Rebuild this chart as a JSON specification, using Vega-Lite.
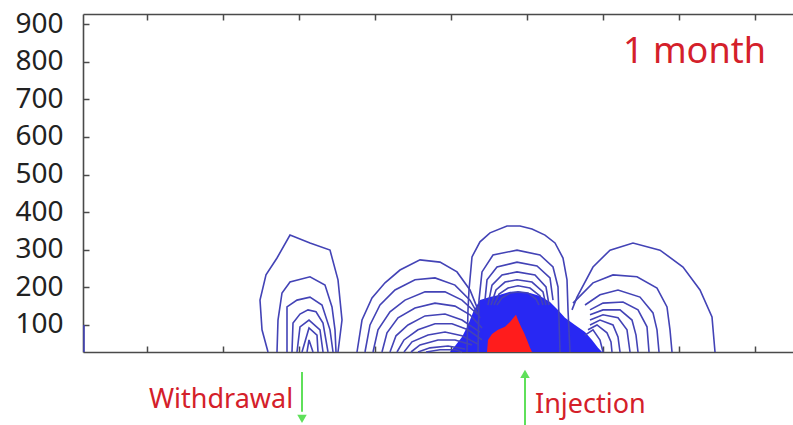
{
  "$schema": "https://vega.github.io/schema/vega-lite/v6.json",
  "width": 710,
  "height": 338,
  "autosize": {"type": "none"},
  "padding": {"left": 83, "top": 14, "right": 0, "bottom": 73},
  "background": "white",
  "config": {
    "view": {"stroke": null},
    "axis": {"grid": false, "title": null, "domainColor": "#4a4a4a", "domainWidth": 1.6, "tickColor": "#4a4a4a", "tickWidth": 1.5, "tickSize": -6}
  },
  "data": {"values": [
    {"k":"c","c":"E","x":84,"y":28},{"k":"c","c":"E","x":84,"y":100},
    {"k":"c","c":"W1","x":268,"y":28},{"k":"c","c":"W1","x":262,"y":87},{"k":"c","c":"W1","x":260,"y":166},{"k":"c","c":"W1","x":266,"y":233},{"k":"c","c":"W1","x":277,"y":278},{"k":"c","c":"W1","x":290,"y":339},{"k":"c","c":"W1","x":310,"y":318},{"k":"c","c":"W1","x":330,"y":299},{"k":"c","c":"W1","x":338,"y":220},{"k":"c","c":"W1","x":342,"y":113},{"k":"c","c":"W1","x":338,"y":28},
    {"k":"c","c":"W2","x":277,"y":28},{"k":"c","c":"W2","x":278,"y":113},{"k":"c","c":"W2","x":282,"y":185},{"k":"c","c":"W2","x":290,"y":214},{"k":"c","c":"W2","x":310,"y":228},{"k":"c","c":"W2","x":325,"y":206},{"k":"c","c":"W2","x":332,"y":148},{"k":"c","c":"W2","x":335,"y":87},{"k":"c","c":"W2","x":336,"y":28},
    {"k":"c","c":"W3","x":287,"y":28},{"k":"c","c":"W3","x":287,"y":148},{"k":"c","c":"W3","x":297,"y":166},{"k":"c","c":"W3","x":310,"y":174},{"k":"c","c":"W3","x":322,"y":153},{"k":"c","c":"W3","x":330,"y":87},{"k":"c","c":"W3","x":333,"y":28},
    {"k":"c","c":"W4","x":292,"y":28},{"k":"c","c":"W4","x":293,"y":105},{"k":"c","c":"W4","x":300,"y":129},{"k":"c","c":"W4","x":308,"y":140},{"k":"c","c":"W4","x":316,"y":135},{"k":"c","c":"W4","x":323,"y":105},{"k":"c","c":"W4","x":328,"y":28},
    {"k":"c","c":"W5","x":297,"y":28},{"k":"c","c":"W5","x":300,"y":95},{"k":"c","c":"W5","x":309,"y":113},{"k":"c","c":"W5","x":320,"y":87},{"k":"c","c":"W5","x":323,"y":28},
    {"k":"c","c":"W6","x":302,"y":28},{"k":"c","c":"W6","x":309,"y":92},{"k":"c","c":"W6","x":317,"y":73},{"k":"c","c":"W6","x":318,"y":28},
    {"k":"c","c":"W7","x":307,"y":28},{"k":"c","c":"W7","x":309,"y":60},{"k":"c","c":"W7","x":313,"y":28},
    {"k":"c","c":"L1","x":357,"y":28},{"k":"c","c":"L1","x":362,"y":113},{"k":"c","c":"L1","x":372,"y":172},{"k":"c","c":"L1","x":385,"y":212},{"k":"c","c":"L1","x":400,"y":246},{"k":"c","c":"L1","x":420,"y":273},{"k":"c","c":"L1","x":440,"y":267},{"k":"c","c":"L1","x":457,"y":241},{"k":"c","c":"L1","x":470,"y":193},{"k":"c","c":"L1","x":478,"y":140},
    {"k":"c","c":"L2","x":365,"y":28},{"k":"c","c":"L2","x":370,"y":100},{"k":"c","c":"L2","x":380,"y":153},{"k":"c","c":"L2","x":395,"y":193},{"k":"c","c":"L2","x":415,"y":220},{"k":"c","c":"L2","x":435,"y":225},{"k":"c","c":"L2","x":455,"y":206},{"k":"c","c":"L2","x":470,"y":166},{"k":"c","c":"L2","x":480,"y":119},
    {"k":"c","c":"L3","x":373,"y":28},{"k":"c","c":"L3","x":378,"y":87},{"k":"c","c":"L3","x":390,"y":135},{"k":"c","c":"L3","x":405,"y":166},{"k":"c","c":"L3","x":425,"y":188},{"k":"c","c":"L3","x":445,"y":188},{"k":"c","c":"L3","x":462,"y":166},{"k":"c","c":"L3","x":478,"y":127},
    {"k":"c","c":"L4","x":382,"y":28},{"k":"c","c":"L4","x":387,"y":79},{"k":"c","c":"L4","x":398,"y":119},{"k":"c","c":"L4","x":415,"y":145},{"k":"c","c":"L4","x":435,"y":158},{"k":"c","c":"L4","x":455,"y":150},{"k":"c","c":"L4","x":470,"y":127},{"k":"c","c":"L4","x":482,"y":92},
    {"k":"c","c":"L5","x":390,"y":28},{"k":"c","c":"L5","x":396,"y":71},{"k":"c","c":"L5","x":408,"y":100},{"k":"c","c":"L5","x":425,"y":124},{"k":"c","c":"L5","x":445,"y":129},{"k":"c","c":"L5","x":462,"y":113},{"k":"c","c":"L5","x":480,"y":81},
    {"k":"c","c":"L6","x":397,"y":28},{"k":"c","c":"L6","x":404,"y":60},{"k":"c","c":"L6","x":418,"y":87},{"k":"c","c":"L6","x":435,"y":103},{"k":"c","c":"L6","x":452,"y":103},{"k":"c","c":"L6","x":468,"y":87},{"k":"c","c":"L6","x":482,"y":60},
    {"k":"c","c":"L7","x":404,"y":28},{"k":"c","c":"L7","x":412,"y":55},{"k":"c","c":"L7","x":428,"y":73},{"k":"c","c":"L7","x":445,"y":81},{"k":"c","c":"L7","x":462,"y":71},{"k":"c","c":"L7","x":478,"y":49},
    {"k":"c","c":"L8","x":411,"y":28},{"k":"c","c":"L8","x":420,"y":47},{"k":"c","c":"L8","x":438,"y":60},{"k":"c","c":"L8","x":455,"y":60},{"k":"c","c":"L8","x":472,"y":47},
    {"k":"c","c":"L9","x":418,"y":28},{"k":"c","c":"L9","x":430,"y":39},{"k":"c","c":"L9","x":448,"y":44},{"k":"c","c":"L9","x":465,"y":36},
    {"k":"c","c":"L10","x":426,"y":28},{"k":"c","c":"L10","x":440,"y":34},{"k":"c","c":"L10","x":455,"y":34},{"k":"c","c":"L10","x":462,"y":28},
    {"k":"c","c":"C1","x":467,"y":28},{"k":"c","c":"C1","x":468,"y":140},{"k":"c","c":"C1","x":469,"y":193},{"k":"c","c":"C1","x":472,"y":281},{"k":"c","c":"C1","x":480,"y":321},{"k":"c","c":"C1","x":490,"y":345},{"k":"c","c":"C1","x":507,"y":363},{"k":"c","c":"C1","x":520,"y":363},{"k":"c","c":"C1","x":532,"y":355},{"k":"c","c":"C1","x":545,"y":339},{"k":"c","c":"C1","x":555,"y":318},{"k":"c","c":"C1","x":563,"y":278},{"k":"c","c":"C1","x":567,"y":220},{"k":"c","c":"C1","x":568,"y":140},{"k":"c","c":"C1","x":570,"y":28},
    {"k":"c","c":"C2","x":478,"y":28},{"k":"c","c":"C2","x":479,"y":166},{"k":"c","c":"C2","x":482,"y":241},{"k":"c","c":"C2","x":493,"y":286},{"k":"c","c":"C2","x":517,"y":299},{"k":"c","c":"C2","x":540,"y":286},{"k":"c","c":"C2","x":553,"y":254},{"k":"c","c":"C2","x":558,"y":201},{"k":"c","c":"C2","x":560,"y":28},
    {"k":"c","c":"C3","x":485,"y":166},{"k":"c","c":"C3","x":487,"y":220},{"k":"c","c":"C3","x":497,"y":254},{"k":"c","c":"C3","x":517,"y":267},{"k":"c","c":"C3","x":537,"y":257},{"k":"c","c":"C3","x":550,"y":225},{"k":"c","c":"C3","x":553,"y":166},
    {"k":"c","c":"C4","x":488,"y":153},{"k":"c","c":"C4","x":492,"y":206},{"k":"c","c":"C4","x":502,"y":233},{"k":"c","c":"C4","x":517,"y":241},{"k":"c","c":"C4","x":535,"y":233},{"k":"c","c":"C4","x":546,"y":201},{"k":"c","c":"C4","x":549,"y":153},
    {"k":"c","c":"C5","x":491,"y":153},{"k":"c","c":"C5","x":496,"y":193},{"k":"c","c":"C5","x":505,"y":214},{"k":"c","c":"C5","x":517,"y":220},{"k":"c","c":"C5","x":532,"y":214},{"k":"c","c":"C5","x":543,"y":188},{"k":"c","c":"C5","x":546,"y":153},
    {"k":"c","c":"C6","x":494,"y":153},{"k":"c","c":"C6","x":499,"y":182},{"k":"c","c":"C6","x":508,"y":198},{"k":"c","c":"C6","x":518,"y":204},{"k":"c","c":"C6","x":530,"y":198},{"k":"c","c":"C6","x":540,"y":177},{"k":"c","c":"C6","x":543,"y":153},
    {"k":"c","c":"C7","x":497,"y":153},{"k":"c","c":"C7","x":502,"y":172},{"k":"c","c":"C7","x":510,"y":185},{"k":"c","c":"C7","x":518,"y":188},{"k":"c","c":"C7","x":528,"y":185},{"k":"c","c":"C7","x":536,"y":169},{"k":"c","c":"C7","x":539,"y":153},
    {"k":"c","c":"R1","x":572,"y":140},{"k":"c","c":"R1","x":577,"y":174},{"k":"c","c":"R1","x":593,"y":254},{"k":"c","c":"R1","x":610,"y":299},{"k":"c","c":"R1","x":633,"y":318},{"k":"c","c":"R1","x":660,"y":299},{"k":"c","c":"R1","x":683,"y":254},{"k":"c","c":"R1","x":700,"y":193},{"k":"c","c":"R1","x":712,"y":121},{"k":"c","c":"R1","x":715,"y":28},
    {"k":"c","c":"R2","x":573,"y":158},{"k":"c","c":"R2","x":593,"y":212},{"k":"c","c":"R2","x":613,"y":233},{"k":"c","c":"R2","x":637,"y":228},{"k":"c","c":"R2","x":657,"y":198},{"k":"c","c":"R2","x":667,"y":148},{"k":"c","c":"R2","x":670,"y":87},{"k":"c","c":"R2","x":672,"y":28},
    {"k":"c","c":"R3","x":585,"y":153},{"k":"c","c":"R3","x":600,"y":180},{"k":"c","c":"R3","x":618,"y":193},{"k":"c","c":"R3","x":640,"y":174},{"k":"c","c":"R3","x":653,"y":132},{"k":"c","c":"R3","x":657,"y":87},{"k":"c","c":"R3","x":659,"y":28},
    {"k":"c","c":"R4","x":590,"y":140},{"k":"c","c":"R4","x":603,"y":158},{"k":"c","c":"R4","x":623,"y":161},{"k":"c","c":"R4","x":638,"y":140},{"k":"c","c":"R4","x":647,"y":95},{"k":"c","c":"R4","x":649,"y":28},
    {"k":"c","c":"R5","x":590,"y":127},{"k":"c","c":"R5","x":603,"y":140},{"k":"c","c":"R5","x":620,"y":140},{"k":"c","c":"R5","x":632,"y":113},{"k":"c","c":"R5","x":636,"y":73},{"k":"c","c":"R5","x":638,"y":28},
    {"k":"c","c":"R6","x":590,"y":113},{"k":"c","c":"R6","x":603,"y":127},{"k":"c","c":"R6","x":618,"y":119},{"k":"c","c":"R6","x":627,"y":87},{"k":"c","c":"R6","x":630,"y":28},
    {"k":"c","c":"R7","x":590,"y":100},{"k":"c","c":"R7","x":600,"y":113},{"k":"c","c":"R7","x":613,"y":100},{"k":"c","c":"R7","x":618,"y":68},{"k":"c","c":"R7","x":620,"y":28},
    {"k":"c","c":"R8","x":588,"y":87},{"k":"c","c":"R8","x":597,"y":100},{"k":"c","c":"R8","x":607,"y":79},{"k":"c","c":"R8","x":611,"y":55},{"k":"c","c":"R8","x":612,"y":28},
    {"k":"c","c":"R9","x":585,"y":73},{"k":"c","c":"R9","x":593,"y":87},{"k":"c","c":"R9","x":600,"y":60},{"k":"c","c":"R9","x":603,"y":28},
    {"k":"b","x":450,"y":28},{"k":"b","x":455,"y":44},{"k":"b","x":462,"y":68},{"k":"b","x":468,"y":100},{"k":"b","x":474,"y":140},{"k":"b","x":480,"y":166},{"k":"b","x":490,"y":174},{"k":"b","x":500,"y":180},{"k":"b","x":510,"y":188},{"k":"b","x":520,"y":188},{"k":"b","x":530,"y":185},{"k":"b","x":540,"y":177},{"k":"b","x":550,"y":161},{"k":"b","x":558,"y":140},{"k":"b","x":565,"y":119},{"k":"b","x":575,"y":100},{"k":"b","x":585,"y":81},{"k":"b","x":592,"y":60},{"k":"b","x":598,"y":39},{"k":"b","x":602,"y":28},
    {"k":"r","x":487,"y":28},{"k":"r","x":488,"y":60},{"k":"r","x":492,"y":76},{"k":"r","x":498,"y":87},{"k":"r","x":505,"y":95},{"k":"r","x":510,"y":108},{"k":"r","x":514,"y":121},{"k":"r","x":516,"y":127},{"k":"r","x":518,"y":113},{"k":"r","x":521,"y":95},{"k":"r","x":524,"y":79},{"k":"r","x":527,"y":60},{"k":"r","x":530,"y":39},{"k":"r","x":532,"y":28},
    {"k":"title","x":623,"y":796,"t":"1 month"},
    {"k":"lab","x":149,"y":-121,"t":"Withdrawal"},
    {"k":"lab","x":535,"y":-134,"t":"Injection"},
    {"k":"arr","x":302,"y":-25,"y2":-131},
    {"k":"arr","x":525,"y":-40,"y2":-170},
    {"k":"hd","x":302,"y":-150},
    {"k":"hu","x":525,"y":-30}
  ]},
  "encoding": {
    "x": {"field": "x", "type": "quantitative", "scale": {"domain": [83, 793], "nice": false, "zero": false}, "axis": null},
    "y": {"field": "y", "type": "quantitative", "scale": {"domain": [28, 927], "nice": false, "zero": false}, "axis": {"orient": "left", "values": [100,200,300,400,500,600,700,800,900], "labelFont": "Noto Sans", "labelFontSize": 28, "labelColor": "#222222", "labelPadding": 26}}
  },
  "resolve": {"axis": {"x": "independent"}},
  "layer": [
    {
      "transform": [{"filter": "datum.k == 'b'"}],
      "mark": {"type": "area", "color": "#1c1cf2", "opacity": 0.95},
      "encoding": {
        "x": {"field": "x", "type": "quantitative", "scale": {"domain": [83, 793], "nice": false, "zero": false}, "axis": {"orient": "top", "values": [147,223,299,375,451,527,603,679,755], "labels": false}},
        "y2": {"datum": 28}
      }
    },
    {
      "transform": [{"filter": "datum.k == 'c'"}],
      "mark": {"type": "line", "color": "#4343b6", "strokeWidth": 1.6, "interpolate": "linear"},
      "encoding": {
        "x": {"field": "x", "type": "quantitative", "scale": {"domain": [83, 793], "nice": false, "zero": false}, "axis": {"orient": "bottom", "values": [147,223,299,375,451,527,603,679,755], "labels": false}},
        "detail": {"field": "c"},
        "order": {"value": null}
      }
    },
    {
      "transform": [{"filter": "datum.k == 'r'"}],
      "mark": {"type": "area", "color": "#ff1c1c"},
      "encoding": {"y2": {"datum": 28}}
    },
    {
      "transform": [{"filter": "datum.k == 'title'"}],
      "mark": {"type": "text", "align": "left", "baseline": "alphabetic", "font": "Noto Sans", "fontSize": 36, "color": "#d4202a"},
      "encoding": {"text": {"field": "t"}}
    },
    {
      "transform": [{"filter": "datum.k == 'lab'"}],
      "mark": {"type": "text", "align": "left", "baseline": "alphabetic", "font": "Noto Sans", "fontSize": 27, "color": "#d4202a"},
      "encoding": {"text": {"field": "t"}}
    },
    {
      "transform": [{"filter": "datum.k == 'arr'"}],
      "mark": {"type": "rule", "color": "#5fe05a", "strokeWidth": 2},
      "encoding": {"y2": {"field": "y2"}}
    },
    {
      "transform": [{"filter": "datum.k == 'hd'"}],
      "mark": {"type": "point", "shape": "triangle-down", "filled": true, "color": "#5fe05a", "size": 90, "opacity": 1},
      "encoding": {}
    },
    {
      "transform": [{"filter": "datum.k == 'hu'"}],
      "mark": {"type": "point", "shape": "triangle-up", "filled": true, "color": "#5fe05a", "size": 90, "opacity": 1},
      "encoding": {}
    }
  ]
}
